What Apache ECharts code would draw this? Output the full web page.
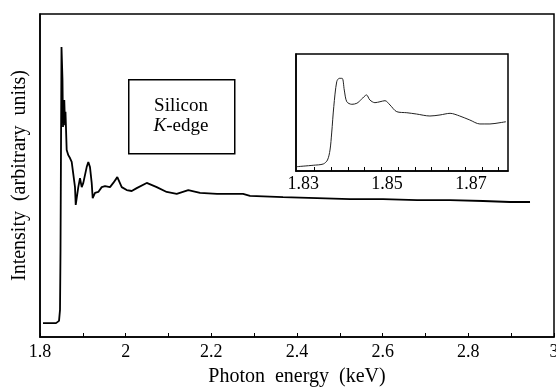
<html lang="en">
  <head>
    <meta charset="UTF-8" />
    <title>Silicon K-edge</title>
  </head>
  <body style="margin: 0">
    <div id="main" style="width: 556px; height: 388px"></div>

    <script src="https://cdn.jsdelivr.net/npm/echarts@6.0.0/dist/echarts.min.js"></script>
    <script>
      // main spectrum: photon energy (keV) and intensity (arbitrary units, 0-100)
      let energy = [1.807, 1.8374, 1.8444, 1.8467, 1.8479, 1.849, 1.8502, 1.8525, 1.8537, 1.8549,
        1.8567, 1.8584, 1.8595, 1.8623, 1.8661, 1.87, 1.874, 1.8777, 1.8817, 1.8834,
        1.8894, 1.8934, 1.8974, 1.9011, 1.909, 1.9128, 1.9167, 1.9207, 1.923, 1.9284,
        1.9361, 1.9441, 1.9518, 1.9634, 1.9711, 1.9805, 1.9908, 2.0024, 2.0141, 2.0258,
        2.0491, 2.0725, 2.0958, 2.1192, 2.1462, 2.1736, 2.2133, 2.274, 2.2903, 2.3674,
        2.4467, 2.5238, 2.6008, 2.6802, 2.7573, 2.8343, 2.8973, 2.944]
      let intensity = [4.3, 4.3, 5.0, 8.4, 26.9, 57.9, 89.8, 79.6, 65.0, 70.3,
        73.4, 65.6, 69.7, 57.9, 56.3, 55.4, 54.2, 54.8, 46.4, 40.9,
        46.4, 49.2, 46.4, 47.7, 52.6, 54.2, 52.6, 47.7, 43.0, 44.6,
        44.9, 46.4, 46.7, 46.4, 47.7, 49.5, 46.4, 45.5, 45.2, 46.1,
        47.7, 46.4, 44.9, 44.3, 45.5, 44.6, 44.3, 44.3, 43.7, 43.3,
        43.0, 42.7, 42.7, 42.4, 42.4, 42.1, 41.8, 41.8]

      // inset: near-edge region
      let insetEnergy = [1.8285, 1.8324, 1.8348, 1.8358, 1.8364, 1.8368, 1.8373, 1.838, 1.8386, 1.8393,
        1.8398, 1.8404, 1.8416, 1.8428, 1.8439, 1.8451, 1.8459, 1.8471, 1.8483, 1.8495,
        1.8507, 1.8523, 1.8547, 1.857, 1.8602, 1.8626, 1.865, 1.8673, 1.8697, 1.8721,
        1.8745, 1.8769, 1.8783]
      let insetIntensity = [3.7, 4.9, 6.0, 9.4, 17.9, 32.5, 55.0, 76.3, 79.2, 79.2,
        69.2, 59.2, 57.0, 57.9, 61.3, 65.0, 60.7, 58.4, 59.2, 60.1,
        56.4, 50.7, 49.8, 48.7, 47.0, 47.9, 49.3, 47.0, 43.6, 40.2,
        40.2, 41.3, 42.1]

      let xTicks = [1.8, 1.9, 2, 2.1, 2.2, 2.3, 2.4, 2.5, 2.6, 2.7, 2.8, 2.9, 3]
      let xLabels = [1.8, 2, 2.2, 2.4, 2.6, 2.8, 3]
      let insetTicks = [1.8326, 1.8366, 1.8407, 1.8445, 1.8485, 1.8526, 1.8566, 1.8604, 1.8645, 1.8685, 1.8726, 1.8764]
      let insetLabels = [1.83, 1.85, 1.87]

      const font = 'Liberation Serif'
      let mCharts = echarts.init(document.querySelector('#main'))
      let option = {
        animation: false,
        backgroundColor: '#fff',
        textStyle: { fontFamily: font, color: '#000' },
        grid: [
          { left: 40, top: 14, right: 2, bottom: 51, outerBoundsMode: 'none', show: true, borderColor: '#000', borderWidth: 1.5 },
          { left: 296, top: 54, width: 212, height: 117, outerBoundsMode: 'none', show: true, borderColor: '#000', borderWidth: 1.5 }
        ],
        xAxis: [
          {
            gridIndex: 0,
            type: 'value',
            min: 1.8,
            max: 3,
            interval: 0.1,
            name: 'Photon  energy  (keV)',
            nameLocation: 'middle',
            nameGap: 30,
            nameTextStyle: { fontFamily: font, fontSize: 20, color: '#000' },
            axisLine: { lineStyle: { color: '#000', width: 1.5 } },
            axisTick: { inside: true, length: 4, customValues: xTicks, lineStyle: { color: '#000' } },
            axisLabel: { customValues: xLabels, fontFamily: font, fontSize: 18, color: '#000', margin: 6 },
            splitLine: { show: false }
          },
          {
            gridIndex: 1,
            type: 'value',
            min: 1.8283,
            max: 1.8788,
            axisLine: { lineStyle: { color: '#000', width: 1.5 } },
            axisTick: { inside: true, length: 4, customValues: insetTicks, lineStyle: { color: '#000' } },
            axisLabel: { customValues: insetLabels, fontFamily: font, fontSize: 18, color: '#000', margin: 4 },
            splitLine: { show: false }
          }
        ],
        yAxis: [
          {
            gridIndex: 0,
            type: 'value',
            min: 0,
            max: 100,
            name: 'Intensity  (arbitrary  units)',
            nameLocation: 'middle',
            nameGap: 10,
            nameTextStyle: { fontFamily: font, fontSize: 20, color: '#000' },
            axisLine: { show: true, lineStyle: { color: '#000', width: 1.5 } },
            axisTick: { show: false },
            axisLabel: { show: false },
            splitLine: { show: false }
          },
          {
            gridIndex: 1,
            type: 'value',
            min: 0,
            max: 100,
            axisLine: { show: true, lineStyle: { color: '#000', width: 1.5 } },
            axisTick: { show: false },
            axisLabel: { show: false },
            splitLine: { show: false }
          }
        ],
        graphic: [
          {
            type: 'rect',
            left: 128,
            top: 79,
            shape: { width: 106, height: 74 },
            style: { fill: '#fff', stroke: '#000', lineWidth: 1.5 }
          },
          {
            type: 'text',
            x: 181,
            y: 116,
            style: {
              text: 'Silicon\n{i|K}-edge',
              align: 'center',
              verticalAlign: 'middle',
              fontFamily: font,
              fontSize: 19,
              lineHeight: 20,
              fill: '#000',
              rich: { i: { fontStyle: 'italic', fontFamily: font, fontSize: 19 } }
            }
          }
        ],
        series: [
          {
            type: 'line',
            xAxisIndex: 0,
            yAxisIndex: 0,
            data: energy.map((e, i) => [e, intensity[i]]),
            showSymbol: false,
            lineStyle: { color: '#000', width: 1.8 }
          },
          {
            type: 'line',
            xAxisIndex: 1,
            yAxisIndex: 1,
            data: insetEnergy.map((e, i) => [e, insetIntensity[i]]),
            showSymbol: false,
            smooth: 0.3,
            lineStyle: { color: '#222', width: 1 }
          }
        ]
      }
      mCharts.setOption(option)
    </script>
  </body>
</html>
